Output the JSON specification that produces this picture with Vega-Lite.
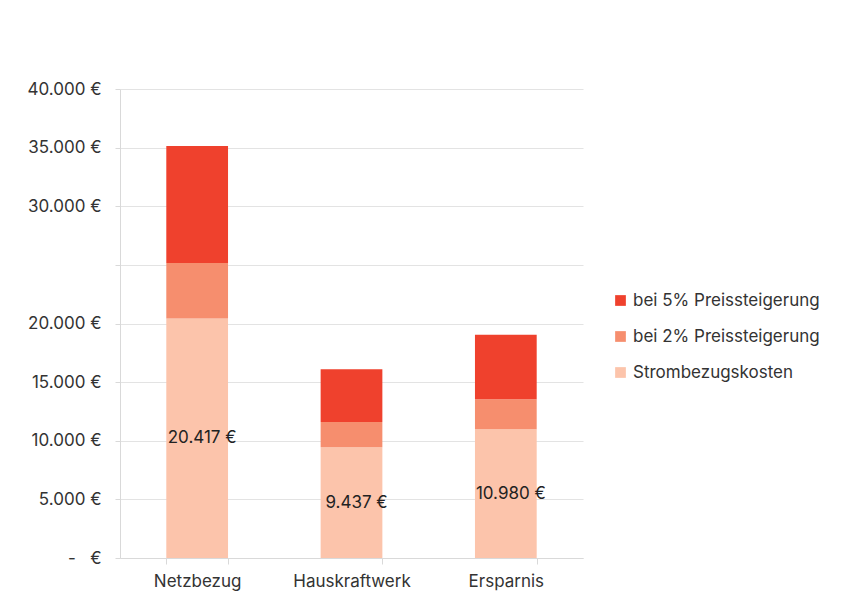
{
  "$schema": "https://vega.github.io/schema/vega-lite/v6.json",
  "width": 463,
  "height": 469,
  "autosize": {"type": "none"},
  "padding": {"left": 120, "top": 89, "right": 263, "bottom": 45},
  "background": "white",
  "config": {
    "locale": {"number": {"decimal": ",", "thousands": ".", "grouping": [3], "currency": ["", " €"]}},
    "font": "Inter",
    "view": {"stroke": null},
    "axis": {"labelFont": "Inter", "labelColor": "#333333", "labelFontSize": 17, "domainColor": "#d9d9d9", "tickColor": "#d9d9d9", "gridColor": "#e3e3e3", "title": null}
  },
  "data": {
    "values": [
      {"kategorie": "Netzbezug", "art": "Strombezugskosten", "wert": 20417, "ebene": 1},
      {"kategorie": "Netzbezug", "art": "bei 2% Preissteigerung", "wert": 4740, "ebene": 2},
      {"kategorie": "Netzbezug", "art": "bei 5% Preissteigerung", "wert": 9980, "ebene": 3},
      {"kategorie": "Hauskraftwerk", "art": "Strombezugskosten", "wert": 9437, "ebene": 1},
      {"kategorie": "Hauskraftwerk", "art": "bei 2% Preissteigerung", "wert": 2170, "ebene": 2},
      {"kategorie": "Hauskraftwerk", "art": "bei 5% Preissteigerung", "wert": 4500, "ebene": 3},
      {"kategorie": "Ersparnis", "art": "Strombezugskosten", "wert": 10980, "ebene": 1},
      {"kategorie": "Ersparnis", "art": "bei 2% Preissteigerung", "wert": 2570, "ebene": 2},
      {"kategorie": "Ersparnis", "art": "bei 5% Preissteigerung", "wert": 5480, "ebene": 3}
    ]
  },
  "encoding": {
    "x": {
      "field": "kategorie",
      "type": "nominal",
      "sort": null,
      "scale": {"paddingInner": 0.6, "paddingOuter": 0.3},
      "axis": {"labelAngle": 0, "tickBand": "extent", "tickSize": 6, "labelPadding": 9, "domain": true, "grid": false}
    }
  },
  "layer": [
    {
      "mark": {"type": "bar"},
      "encoding": {
        "y": {
          "field": "wert",
          "type": "quantitative",
          "stack": "zero",
          "scale": {"domain": [0, 40000], "nice": false},
          "axis": {
            "values": [0, 5000, 10000, 15000, 20000, 25000, 30000, 35000, 40000],
            "labelExpr": "datum.value == 0 ? '-\u00a0\u00a0\u00a0€' : (datum.value == 25000 ? '' : format(datum.value, '$,.0f'))",
            "tickSize": 5,
            "labelPadding": 14,
            "domain": true,
            "grid": true
          }
        },
        "color": {
          "field": "art",
          "type": "nominal",
          "scale": {
            "domain": ["bei 5% Preissteigerung", "bei 2% Preissteigerung", "Strombezugskosten"],
            "range": ["#EF412D", "#F68E6E", "#FCC4AB"]
          },
          "legend": {
            "title": null,
            "orient": "none",
            "legendX": 492,
            "legendY": 203,
            "symbolType": "square",
            "symbolSize": 115,
            "symbolStrokeWidth": 0,
            "labelFontSize": 17,
            "labelFont": "Inter",
            "labelColor": "#333333",
            "labelLimit": 400,
            "rowPadding": 18,
            "labelOffset": 4,
            "padding": 0
          }
        },
        "order": {"field": "ebene", "type": "quantitative", "sort": "ascending"}
      }
    },
    {
      "transform": [{"filter": "datum.art == 'Strombezugskosten'"}],
      "mark": {"type": "text", "fontSize": 17, "color": "#222222", "baseline": "middle", "dx": 5},
      "encoding": {
        "y": {
          "field": "wert",
          "type": "quantitative",
          "stack": null,
          "scale": {"domain": [0, 80000], "nice": false},
          "axis": null
        },
        "text": {"field": "wert", "type": "quantitative", "format": "$,.0f"}
      }
    }
  ],
  "resolve": {"scale": {"y": "independent"}}
}
